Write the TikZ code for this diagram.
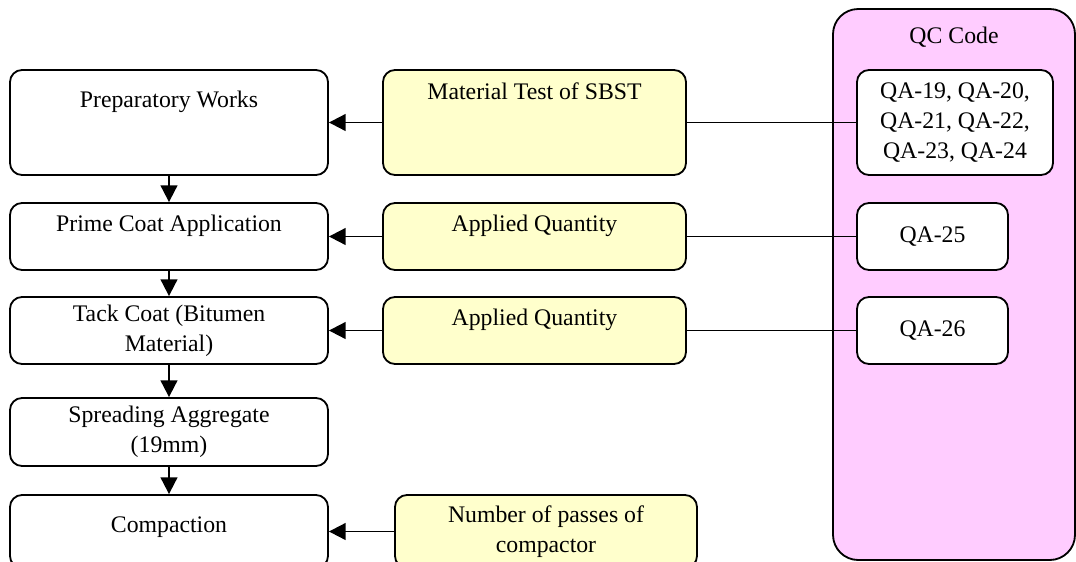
\documentclass[tikz,border=0pt]{standalone}
\usepackage{fontspec}
\setmainfont{Liberation Serif}
\usetikzlibrary{arrows.meta}

\definecolor{testyellow}{HTML}{FFFFCC}
\definecolor{codepink}{HTML}{FFCCFF}

\tikzset{
  box/.style={draw=black, line width=1.3pt, rounded corners=0.3cm, align=center, inner ysep=0pt},
  flow/.style={box, fill=white, minimum width=7.95cm},
  test/.style={box, fill=testyellow, minimum width=7.575cm},
  code/.style={box, fill=white},
  toptext/.style 2 args={text height=#1, text depth=#2},
  flowarrow/.style={line width=1.4pt, -{Triangle[length=0.42cm, width=0.42cm]}},
  link/.style={line width=1.3pt}
}

\begin{document}
\begin{tikzpicture}[font=\fontsize{16.9}{21.5}\selectfont]
        \useasboundingbox (0, 0) rectangle (26.9, -14.025);

        % QC column behind everything
        \node[draw=black, line width=1.3pt, fill=codepink, rounded corners=0.63cm,
              minimum width=6.05cm, minimum height=13.775cm] (qc) at (23.85, -7.1125) {};
        \node (qctitle) at (23.85, -0.925) {QC Code};

        % process steps
        \node[flow, toptext={0.94cm}{1.685cm}] (prep) at (4.225, -3.0625) {Preparatory Works};
        \node[flow, toptext={0.715cm}{0.96cm}] (prime) at (4.225, -5.9125) {Prime Coat Application};
        \node[flow, minimum height=1.675cm] (tack) at (4.225, -8.2625) {Tack Coat (Bitumen\\Material)};
        \node[flow, minimum height=1.7cm] (spread) at (4.225, -10.8) {Spreading Aggregate\\(19mm)};
        \node[flow, toptext={0.94cm}{0.885cm}] (comp) at (4.225, -13.2875) {Compaction};

        % tests
        \node[test, toptext={0.74cm}{1.885cm}] (mt) at (13.3625, -3.0625) {Material Test of SBST};
        \node[test, toptext={0.715cm}{0.96cm}] (aq1) at (13.3625, -5.9125) {Applied Quantity};
        \node[test, toptext={0.715cm}{0.96cm}] (aq2) at (13.3625, -8.2625) {Applied Quantity};
        \node[test, minimum width=7.55cm, minimum height=1.825cm] (np) at (13.65, -13.2875) {Number of passes of\\compactor};

        % QC codes
        \node[code, minimum width=4.9cm, minimum height=2.625cm] (qa1) at (23.875, -3.0625) {QA-19, QA-20,\\QA-21, QA-22,\\QA-23, QA-24};
        \node[code, minimum width=3.775cm, minimum height=1.675cm] (qa2) at (23.3125, -5.9125) {QA-25};
        \node[code, minimum width=3.775cm, minimum height=1.675cm] (qa3) at (23.3125, -8.2625) {QA-26};

        \draw[flowarrow] (prep) -- (prime);
        \draw[flowarrow] (prime) -- (tack);
        \draw[flowarrow] (tack) -- (spread);
        \draw[flowarrow] (spread) -- (comp);

        \draw[flowarrow] (mt) -- (prep);
        \draw[flowarrow] (aq1) -- (prime);
        \draw[flowarrow] (aq2) -- (tack);
        \draw[flowarrow] (np.west |- comp.east) -- (comp.east);

        \draw[link] (mt) -- (qa1);
        \draw[link] (aq1) -- (qa2);
        \draw[link] (aq2) -- (qa3);
\end{tikzpicture}
\end{document}
